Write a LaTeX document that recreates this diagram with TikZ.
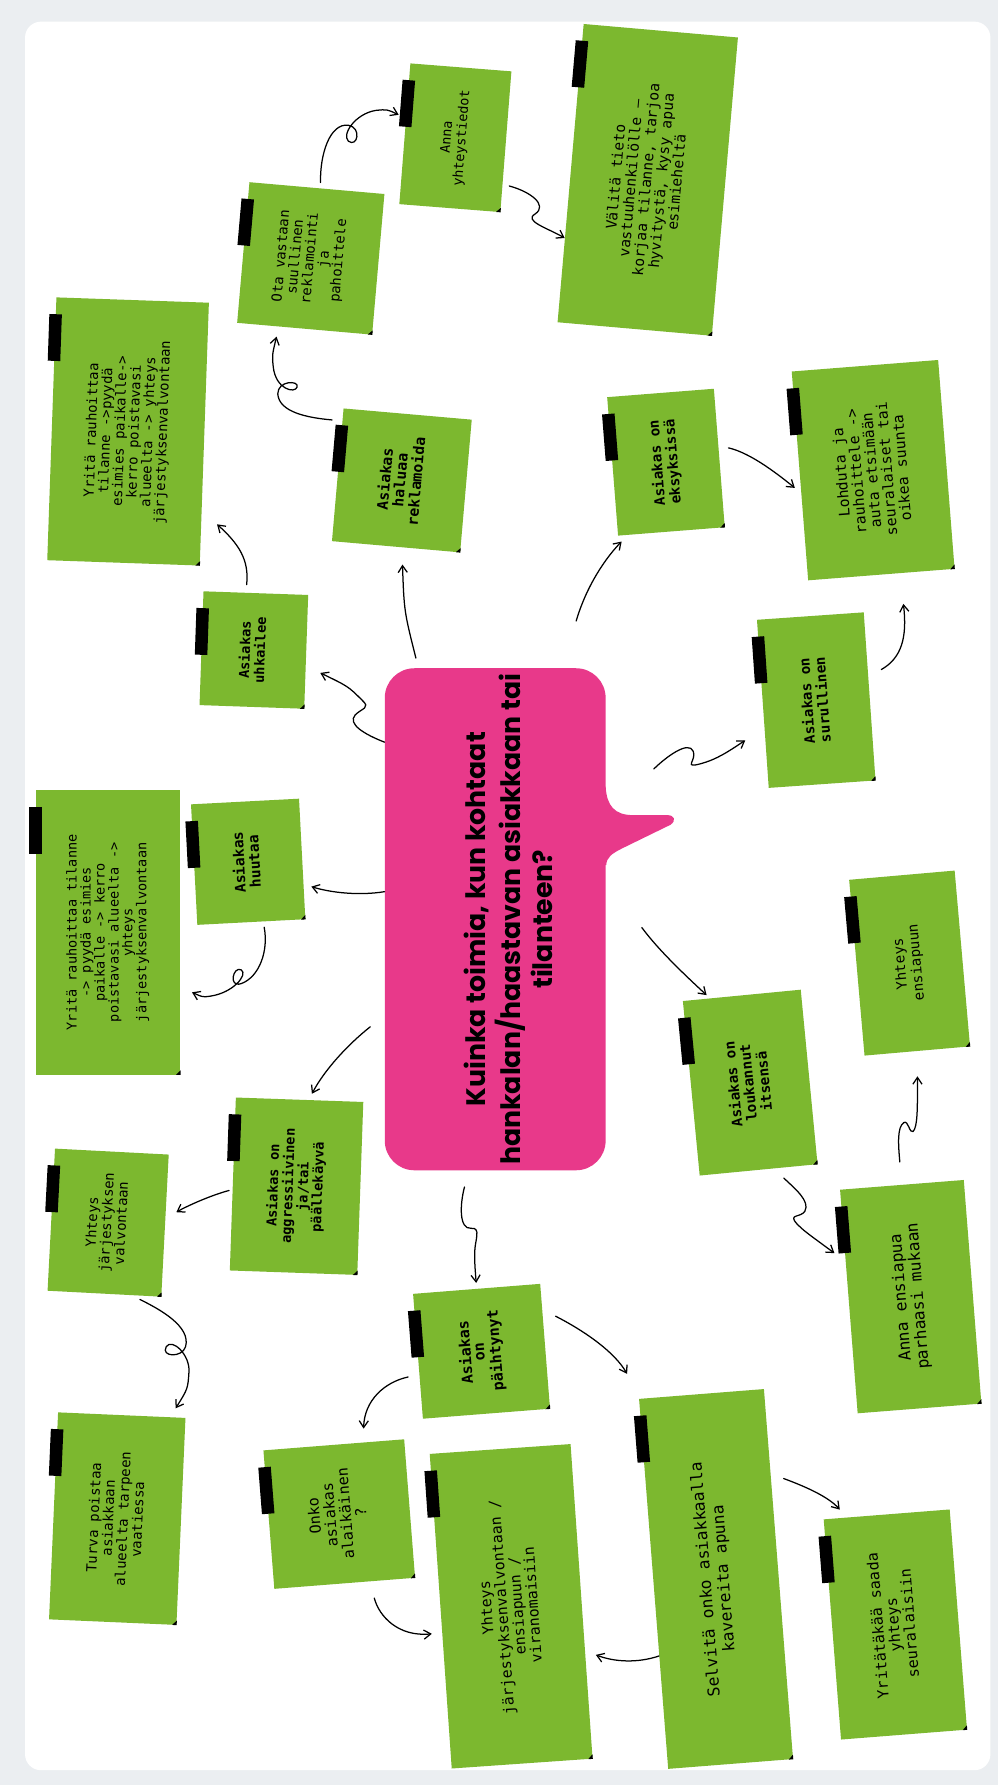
\documentclass[tikz,border=0pt]{standalone}
\usepackage{fontspec}
\usepackage{graphicx}
\usepackage{tikz}
\usetikzlibrary{calc,arrows.meta}
\newfontfamily\lappufont{DejaVu Sans Mono}
\newfontfamily\otsikkofont{Poppins}
\definecolor{lappuvihrea}{HTML}{7CB82F}
\definecolor{kuplapinkki}{HTML}{E8398A}
\definecolor{taustaharmaa}{HTML}{EBEEF1}
\newcommand{\lapputeksti}[3]{\rotatebox{90}{\fontsize{#1}{#2}\selectfont\begin{tabular}{@{}c@{}}#3\end{tabular}}}

\begin{document}
\begin{tikzpicture}[x=1pt,y=-1pt,
    lappu/.style={fill=lappuvihrea, inner sep=0pt, font=\lappufont},
    lihava/.style={lappu, font=\lappufont\bfseries},
    kupla/.style={fill=kuplapinkki, rounded corners=26pt, inner sep=0pt, minimum width=194pt, minimum height=441pt, font=\otsikkofont\bfseries},
    nuoli/.style={-{Straight Barb[length=6pt,width=8pt]}, line width=1.1pt, line cap=round, line join=round},
    teippi/.style={line width=11pt, black}]

        % Tausta
        \useasboundingbox (0,0) rectangle (877,1568);
        \fill[taustaharmaa] (0,0) rectangle (877,1568);
        \fill[white, rounded corners=14pt] (22,19) rectangle (870,1555);

        % Kysymys keskellä
        \node[kupla] (kysymys) at (435,807.5) {\hspace*{30pt}\rotatebox{90}{\fontsize{23.5}{28}\selectfont\begin{tabular}{@{}c@{}}Kuinka toimia, kun kohtaat\\hankalan/haastavan asiakkaan tai\\tilanteen?\end{tabular}}};
        \fill[kuplapinkki] (532,691) .. controls (533,708) and (540,716) .. (556,716) -- (586,716) .. controls (593,716) and (594,721) .. (589,724.5) -- (547,745) .. controls (537,750) and (533,753) .. (532.5,760) -- (520,760) -- (520,691) -- cycle;

        % Laput: ensimmäinen taso
        \node[lihava, minimum width=92, minimum height=100, rotate=-2] (uhkailee) at (223,571) {\lapputeksti{12}{11.5}{Asiakas\\uhkailee}};
        \node[lihava, minimum width=113, minimum height=117, rotate=-5] (haluaa) at (353,422) {\lapputeksti{13}{11.5}{Asiakas\\haluaa\\reklamoida}};
        \node[lihava, minimum width=94, minimum height=122, rotate=4.5] (eksyksissa) at (585,406) {\lapputeksti{12.5}{12}{Asiakas on\\eksyksissä}};
        \node[lihava, minimum width=94, minimum height=148, rotate=4] (surullinen) at (717,615) {\lapputeksti{12.5}{12}{Asiakas on\\surullinen}};
        \node[lihava, minimum width=95, minimum height=106, rotate=3] (huutaa) at (218,757) {\lapputeksti{12.8}{12.5}{Asiakas\\huutaa}};
        \node[lihava, minimum width=104, minimum height=154, rotate=5.5] (loukannut) at (659,951) {\lapputeksti{12.5}{12.5}{Asiakas on\\loukannut\\itsensä}};
        \node[lihava, minimum width=112, minimum height=152, rotate=-2] (aggressiivinen) at (260.5,1042) {\lapputeksti{12}{11.5}{Asiakas on\\aggressiivinen\\ja/tai\\päällekäyvä}};
        \node[lihava, minimum width=112, minimum height=110, rotate=4.5] (paihtynyt) at (423,1187) {\lapputeksti{13.2}{12}{Asiakas\\on\\päihtynyt}};

        % Laput: toinen taso
        \node[lappu, minimum width=134, minimum height=231, rotate=-2] (rauhoita1) at (112.5,379) {\lapputeksti{12.2}{10.5}{Yritä rauhoittaa\\tilanne ->pyydä\\esimies paikalle->\\kerro poistavasi\\alueelta -> yhteys\\järjestyksenvalvontaan}};
        \node[lappu, minimum width=119, minimum height=124, rotate=-5] (reklamointi) at (273,227) {\lapputeksti{12.2}{11}{Ota vastaan\\suullinen\\reklamointi\\ja\\pahoittele}};
        \node[lappu, minimum width=89, minimum height=124, rotate=-4.5] (yhteystiedot) at (400,121) {\lapputeksti{11.8}{13}{Anna\\yhteystiedot}};
        \node[lappu, minimum width=136, minimum height=263, rotate=-5] (valita) at (569,158) {\lapputeksti{12.8}{12}{Välitä tieto\\vastuuhenkilölle –\\korjaa tilanne, tarjoa\\hyvitystä, kysy apua\\esimieheltä}};
        \node[lappu, minimum width=129, minimum height=184, rotate=4.5] (lohduta) at (767,413) {\lapputeksti{13}{11.5}{Lohduta ja\\rauhoittele ->\\auta etsimään\\seuralaiset tai\\oikea suunta}};
        \node[lappu, minimum width=127, minimum height=250, rotate=0] (rauhoita2) at (95,819) {\lapputeksti{11.9}{10.6}{Yritä rauhoittaa tilanne\\-> pyydä esimies\\paikalle -> kerro\\poistavasi alueelta ->\\yhteys\\järjestyksenvalvontaan}};
        \node[lappu, minimum width=93, minimum height=155, rotate=5] (ensiapuun) at (799,846) {\lapputeksti{12.5}{14}{Yhteys\\ensiapuun}};
        \node[lappu, minimum width=109, minimum height=197, rotate=4.5] (ensiapua) at (800,1139) {\lapputeksti{14.3}{14.5}{Anna ensiapua\\parhaasi mukaan}};
        \node[lappu, minimum width=100, minimum height=125, rotate=-3] (jarjestys) at (95,1074) {\lapputeksti{12.2}{11.5}{Yhteys\\järjestyksen\\valvontaan}};
        \node[lappu, minimum width=112, minimum height=182, rotate=-2.5] (poistaa) at (103,1334) {\lapputeksti{12.3}{11.5}{Turva poistaa\\asiakkaan\\alueelta tarpeen\\vaatiessa}};
        \node[lappu, minimum width=124, minimum height=122, rotate=4.5] (alaikainen) at (298,1330) {\lapputeksti{13.3}{12}{Onko\\asiakas\\alaikäinen\\?}};
        \node[lappu, minimum width=124, minimum height=277, rotate=4] (viranomaiset) at (449,1411) {\lapputeksti{13.1}{12}{Yhteys\\järjestyksenvalvontaan /\\ensiapuun /\\viranomaisiin}};
        \node[lappu, minimum width=110, minimum height=326, rotate=4.5] (kaverit) at (629,1387) {\lapputeksti{14.3}{16}{Selvitä onko asiakkaalla\\kavereita apuna}};
        \node[lappu, minimum width=111, minimum height=194, rotate=4.5] (seuralaiset) at (786.5,1427) {\lapputeksti{13.3}{12.5}{Yritätäkää saada\\yhteys\\seuralaisiin}};

        % Teipit ja taitetut kulmat
        \foreach \n in {uhkailee, haluaa, eksyksissa, surullinen, huutaa, loukannut, aggressiivinen, paihtynyt, rauhoita1, reklamointi, yhteystiedot, valita, lohduta, rauhoita2, ensiapuun, ensiapua, jarjestys, poistaa, alaikainen, viranomaiset, kaverit, seuralaiset}{
            \draw[teippi] ($(\n.north west)!15pt!(\n.south west)$) -- ($(\n.north west)!56pt!(\n.south west)$);
            \fill ($(\n.south east)!4pt!(\n.north east)$) -- (\n.south east) -- ($(\n.south east)!4pt!(\n.south west)$) -- cycle;
        }

        % Nuolet kysymyksestä
        \draw[nuoli, shorten <=9pt, shorten >=15pt] (kysymys.107) .. controls (355,537) .. (haluaa.275);
        \draw[nuoli, shorten >=14pt] (kysymys.122) .. controls (320,645) and (305,636) .. (312,628) .. controls (318,622) and (326,622) .. (318,615) .. controls (306,603) .. (uhkailee.-15);
        \draw[nuoli, shorten <=43pt, shorten >=8pt] (kysymys.75) .. controls (515,515) and (532,490) .. (eksyksissa.238);
        \draw[nuoli, shorten <=59pt, shorten >=20pt] (kysymys.43) .. controls (585,665) and (605,650) .. (609,660) .. controls (612,668) and (600,675) .. (615,671) .. controls (630,667) and (640,660) .. (surullinen.204);
        \draw[nuoli, shorten >=7pt] (kysymys.166) .. controls (315,787) and (290,784) .. (huutaa.-25);
        \draw[nuoli, shorten <=53pt, shorten >=4pt] (kysymys.20) .. controls (578,834) and (600,855) .. (loukannut.110);
        \draw[nuoli, shorten <=16pt, shorten >=6pt] (kysymys.221) .. controls (305,918) and (285,940) .. (aggressiivinen.84);
        \draw[nuoli, shorten <=15pt, shorten >=5pt] (kysymys.264) .. controls (404,1058) and (403,1080) .. (414,1079) .. controls (423,1078) and (417,1090) .. (417,1100) .. controls (417,1110) .. (paihtynyt.90);

        % Nuolet lapulta lapulle
        \draw[nuoli, shorten <=7pt, shorten >=18pt] (uhkailee.100) .. controls (219,492) and (210,478) .. (rauhoita1.-45);
        \draw[nuoli, shorten <=9pt, shorten >=9pt] (haluaa.140) .. controls (270,367) and (245,362) .. (244,346) .. controls (244,334) and (263,334) .. (261,340) .. controls (259,346) and (242,342) .. (240,322) .. controls (239,312) .. (reklamointi.250);
        \draw[nuoli, shorten <=5pt, shorten >=7pt] (reklamointi.87) .. controls (281,135) and (290,108) .. (306,110) .. controls (318,112) and (314,130) .. (306,124) .. controls (300,118) and (312,100) .. (330,97) .. controls (340,96) .. (yhteystiedot.163);
        \draw[nuoli, shorten <=6pt] (yhteystiedot.-40) .. controls (465,168) and (482,180) .. (470,188) .. controls (460,194) and (480,200) .. (valita.220);
        \draw[nuoli, shorten <=9pt, shorten >=7pt] (eksyksissa.13) .. controls (660,398) and (685,418) .. (lohduta.193);
        \draw[nuoli, shorten <=13pt, shorten >=27pt] (surullinen.20) .. controls (792,578) and (797,560) .. (lohduta.-80);
        \draw[nuoli, shorten <=5pt, shorten >=11pt] (huutaa.-79) .. controls (236,835) and (228,858) .. (212,864) .. controls (200,868) and (205,848) .. (212,852) .. controls (218,856) and (205,872) .. (185,875) .. controls (178,876) .. (rauhoita2.-37);
        \draw[nuoli, shorten <=20pt, shorten >=22pt] (ensiapua.90) .. controls (789,1005) and (788,990) .. (794,986) .. controls (798,984) and (799,996) .. (802,994) .. controls (806,990) and (806,975) .. (ensiapuun.-90);
        \draw[nuoli, shorten <=12pt, shorten >=12pt] (loukannut.-80) .. controls (698,1044) and (712,1055) .. (707,1064) .. controls (703,1070) and (692,1066) .. (700,1075) .. controls (706,1081) .. (ensiapua.147);
        \draw[nuoli, shorten <=3pt, shorten >=11pt] (aggressiivinen.185) .. controls (185,1050) and (163,1060) .. (jarjestys.7);
        \draw[nuoli, shorten <=8pt, shorten >=9pt] (jarjestys.-69) .. controls (140,1150) and (168,1165) .. (163,1183) .. controls (160,1193) and (141,1192) .. (146,1183) .. controls (151,1175) and (167,1190) .. (166,1205) .. controls (165,1220) .. (poistaa.65);
        \draw[nuoli, shorten <=10pt, shorten >=12pt] (paihtynyt.196) .. controls (338,1214) and (320,1230) .. (alaikainen.67);
        \draw[nuoli, shorten <=13pt, shorten >=25pt] (paihtynyt.30) .. controls (515,1170) and (540,1188) .. (kaverit.108);
        \draw[nuoli, shorten <=15pt, shorten >=9pt] (alaikainen.-70) .. controls (333,1420) and (350,1438) .. (viranomaiset.197);
        \draw[nuoli, shorten >=10pt] (kaverit.229) .. controls (560,1461) and (540,1460) .. (viranomaiset.-35);
        \draw[nuoli, shorten <=12pt, shorten >=9pt] (kaverit.58) .. controls (708,1306) and (728,1315) .. (seuralaiset.110);
    \end{tikzpicture}
\end{document}
